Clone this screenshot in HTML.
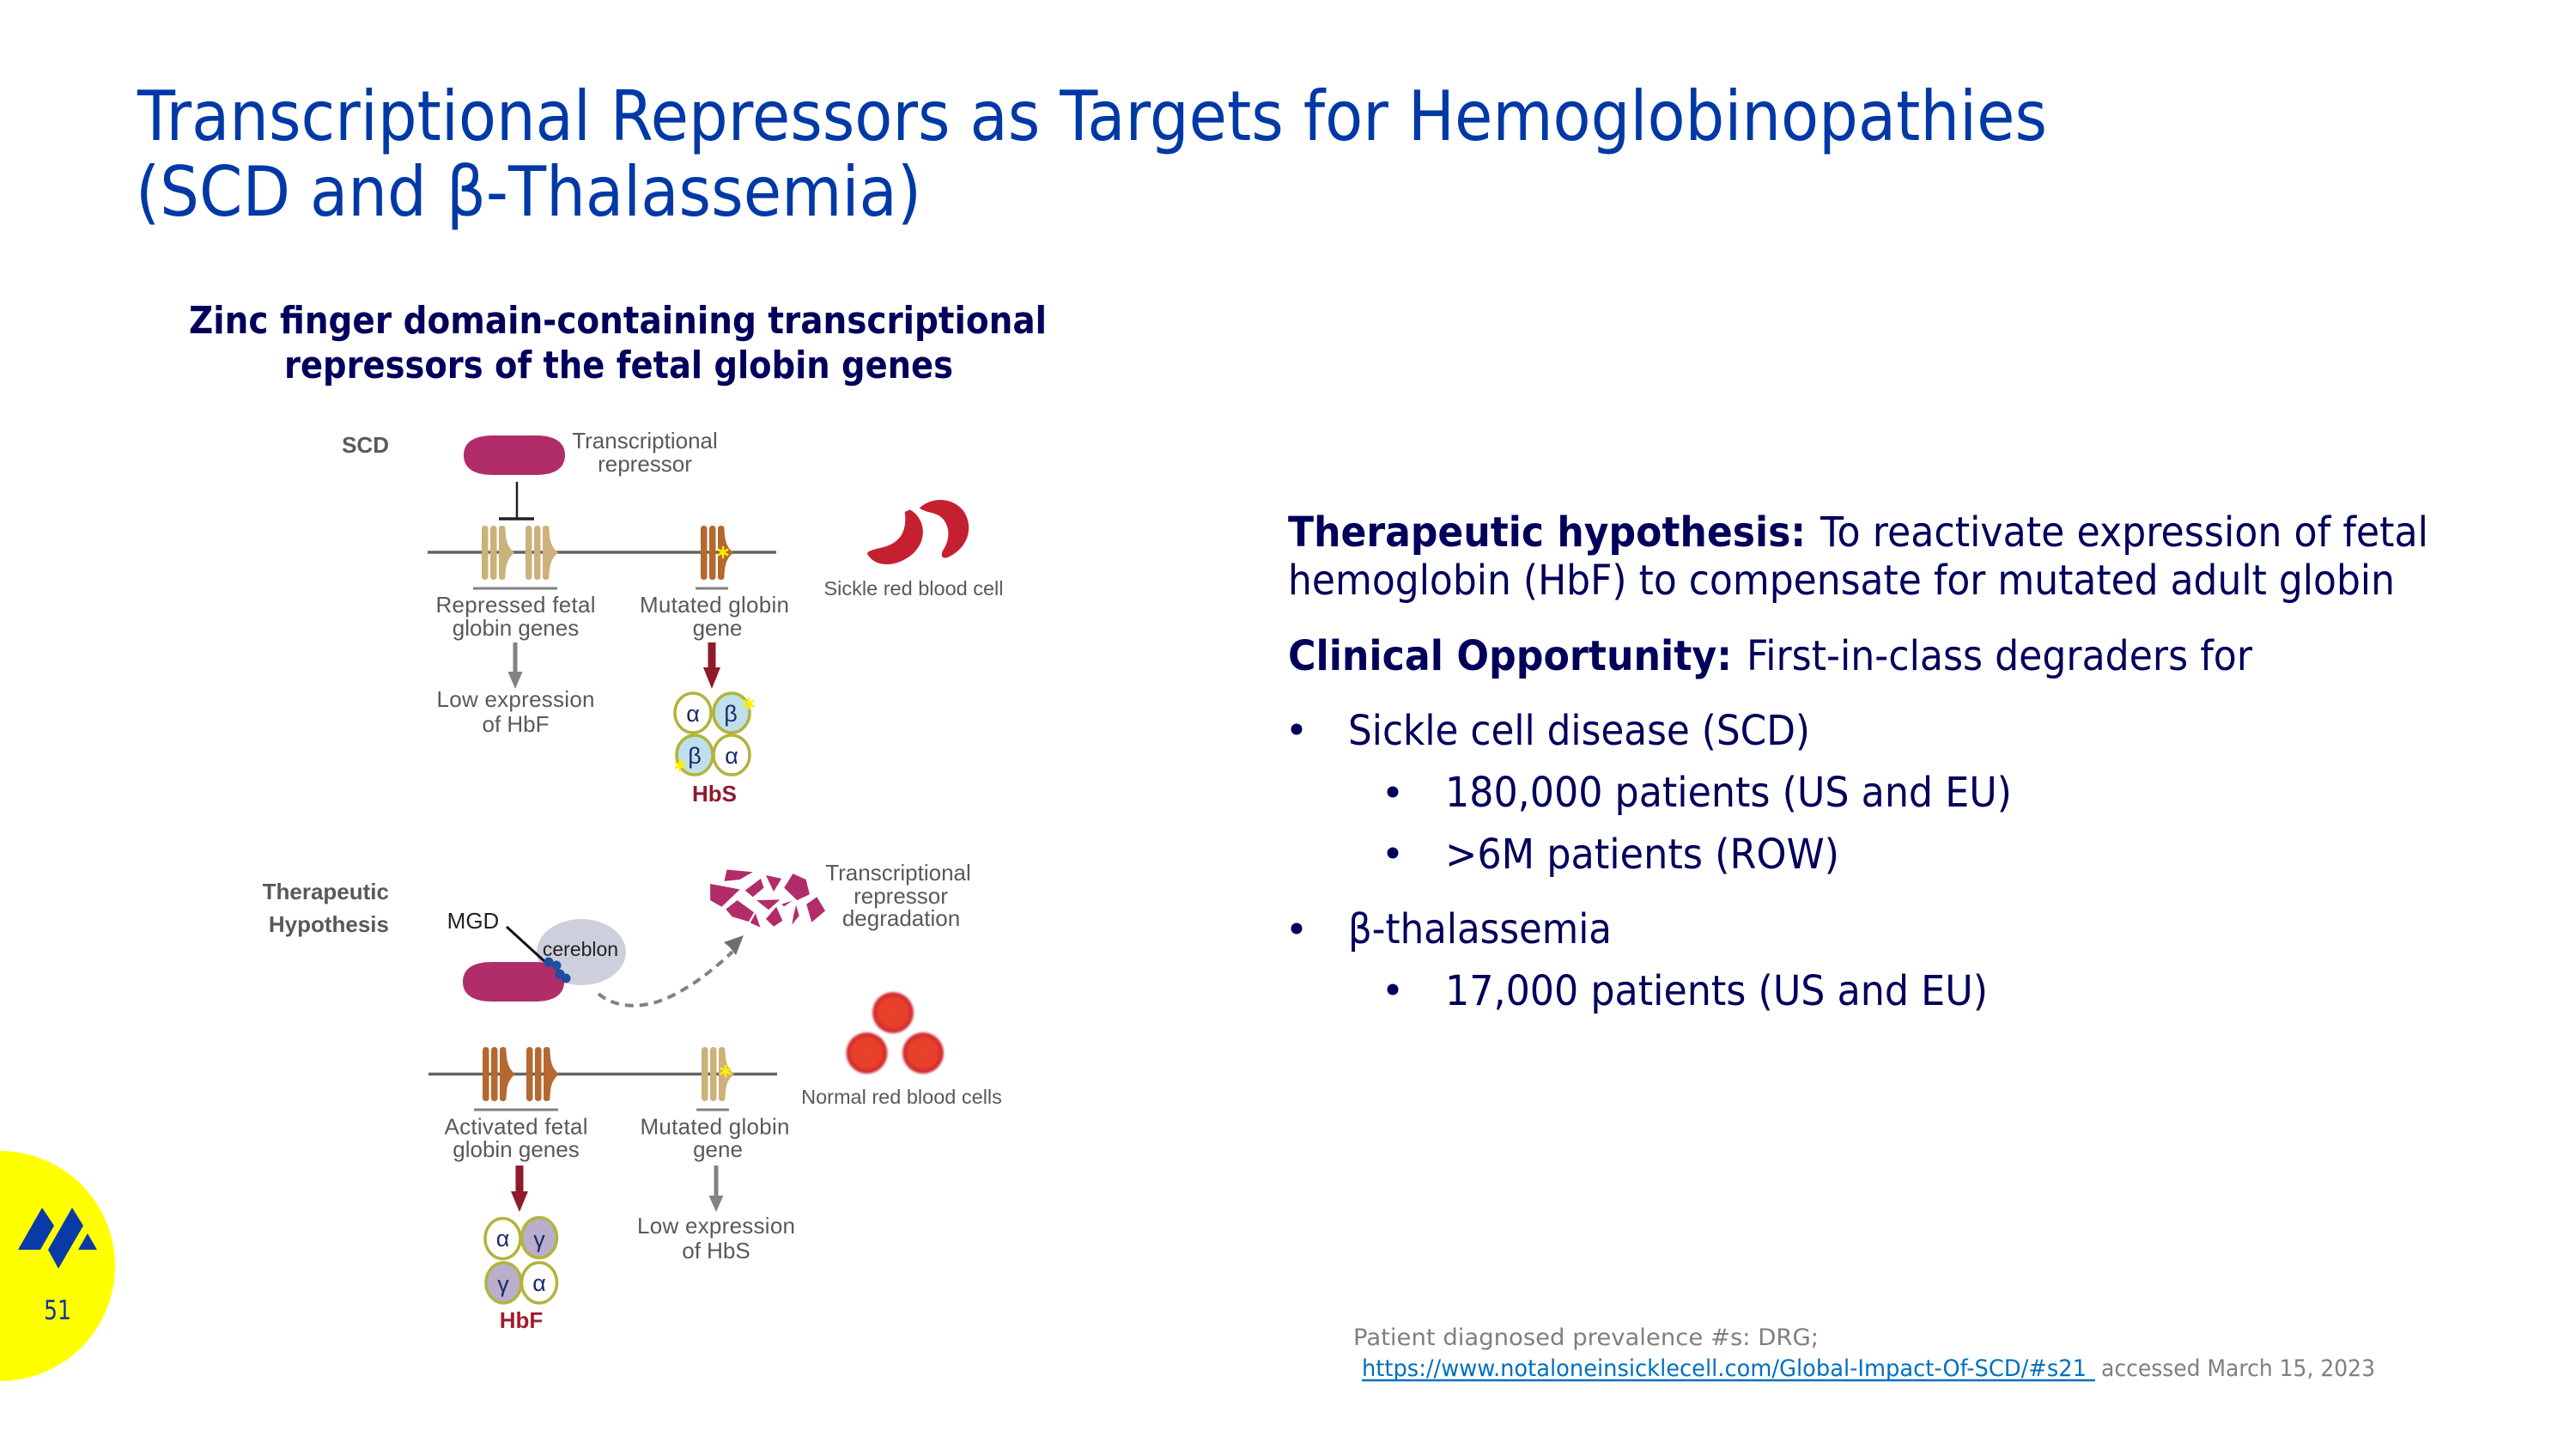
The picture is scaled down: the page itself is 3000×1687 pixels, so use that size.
<!DOCTYPE html>
<html lang="en">
<head>
<meta charset="utf-8">
<title>Transcriptional Repressors as Targets for Hemoglobinopathies</title>
<style>
html,body{margin:0;padding:0;background:#fff;width:3000px;height:1687px;overflow:hidden}
svg{display:block}
text{white-space:pre}
.t{font-family:"DejaVu Sans",sans-serif;fill:#0039a6;font-size:80px}
.b{font-family:"DejaVu Sans",sans-serif;fill:#00005c;font-size:48px}
.bb{font-family:"DejaVu Sans",sans-serif;fill:#00005c;font-size:48px;font-weight:700}
.s{font-family:"DejaVu Sans",sans-serif;fill:#00005c;font-size:44px;font-weight:700}
.f{font-family:"DejaVu Sans",sans-serif;fill:#7f7f7f;font-size:27px}
.l{font-family:"Liberation Sans",sans-serif;fill:#58595b;font-size:26px;text-anchor:middle}
.h{font-family:"Liberation Sans",sans-serif;fill:#58595b;font-size:26px;font-weight:700;text-anchor:end}
.k{font-family:"Liberation Sans",sans-serif;fill:#222;text-anchor:middle}
.g{font-family:"Liberation Sans",sans-serif;fill:#1b2a6b;font-size:27px;text-anchor:middle}
</style>
</head>
<body>
<svg xmlns="http://www.w3.org/2000/svg" width="3000" height="1687" viewBox="0 0 3000 1687">
<defs>
  <radialGradient id="rbc" cx="50%" cy="50%" r="50%">
    <stop offset="0" stop-color="#e8432a"/><stop offset=".72" stop-color="#e8402b"/><stop offset=".92" stop-color="#cc2530"/><stop offset="1" stop-color="#d8454a"/>
  </radialGradient>
  <filter id="soft" x="-10%" y="-10%" width="120%" height="120%"><feGaussianBlur stdDeviation="1.2"/></filter>
  <g id="ex">
    <rect x="0" y="-31.5" width="7.5" height="63" rx="3.5"/>
    <rect x="10" y="-31.5" width="7.5" height="63" rx="3.5"/>
    <path d="M20 -28 Q20 -31.5 23.75 -31.5 Q27.5 -31.5 27.5 -28 C28 -12,31 -6,38 0 C31 6,28 12,27.5 28 Q27.5 31.5 23.75 31.5 Q20 31.5 20 28Z"/>
  </g>
  <g id="star" stroke="#ffee00" stroke-width="2.6" stroke-linecap="round" fill="none">
    <path d="M0 -6V6M-5.2 -3L5.2 3M-5.2 3L5.2 -3"/>
  </g>
  <path id="pill" d="M-59 0 C-59 -17,-44 -23,-25 -23 L25 -23 C44 -23,59 -17,59 0 C59 17,44 23,25 23 L-25 23 C-44 23,-59 17,-59 0Z" fill="#b12d69"/>
</defs>
<rect width="3000" height="1687" fill="#fff"/>

<!-- Title -->
<text class="t" x="160" y="163" textLength="2224" lengthAdjust="spacingAndGlyphs">Transcriptional Repressors as Targets for Hemoglobinopathies</text>
<text class="t" x="158" y="251" textLength="915" lengthAdjust="spacingAndGlyphs">(SCD and β-Thalassemia)</text>

<!-- Subtitle -->
<text class="s" x="220" y="388" textLength="999" lengthAdjust="spacingAndGlyphs">Zinc finger domain-containing transcriptional</text>
<text class="s" x="331" y="440" textLength="779" lengthAdjust="spacingAndGlyphs">repressors of the fetal globin genes</text>

<!-- SCD diagram -->
<text class="h" x="453" y="527">SCD</text>
<use href="#pill" x="599" y="530"/>
<text class="l" x="751" y="522">Transcriptional</text>
<text class="l" x="751" y="549">repressor</text>
<path d="M602 561V604" stroke="#231f20" stroke-width="2.5"/>
<path d="M581 604H622" stroke="#231f20" stroke-width="3.5"/>
<path d="M498 643H904" stroke="#636466" stroke-width="3.5"/>
<use href="#ex" x="561" y="643.5" fill="#ccb27a"/>
<use href="#ex" x="612" y="643.5" fill="#ccb27a"/>
<use href="#ex" x="816" y="643.5" fill="#b5682f"/>
<use href="#star" x="842" y="643"/>
<path d="M551 685H649M810 685H848" stroke="#808285" stroke-width="3"/>
<text class="l" x="600.5" y="713" textLength="186">Repressed fetal</text>
<text class="l" x="600.5" y="740">globin genes</text>
<text class="l" x="832" y="713" textLength="174">Mutated globin</text>
<text class="l" x="835.5" y="740">gene</text>
<polygon points="597.5,748 602.5,748 602.5,782 608.5,782 600,802 591.5,782 597.5,782" fill="#808285"/>
<polygon points="824.5,748 833.5,748 833.5,777 839,777 829,802 819,777 824.5,777" fill="#8e1a2c"/>
<text class="l" x="600.5" y="823" textLength="184">Low expression</text>
<text class="l" x="600.5" y="852">of HbF</text>
<g stroke="#b2b43c" stroke-width="3.5">
  <ellipse cx="807" cy="830" rx="21" ry="23" fill="#fff"/>
  <ellipse cx="852" cy="830" rx="21" ry="23" fill="#bfe0ea"/>
  <ellipse cx="809" cy="879" rx="21" ry="23" fill="#bfe0ea"/>
  <ellipse cx="852" cy="879" rx="21" ry="23" fill="#fff"/>
</g>
<text class="g" x="807" y="840">α</text>
<text class="g" x="851" y="840">β</text>
<text class="g" x="809" y="889">β</text>
<text class="g" x="852" y="889">α</text>
<use href="#star" x="872" y="819"/>
<use href="#star" x="792" y="891"/>
<text class="l" x="832" y="933" style="font-weight:700;fill:#8e1a2c">HbS</text>
<g transform="translate(280,480) scale(.6059,.3333)" fill="#c5202f">
  <path d="M1305 335 C1328 295,1368 295,1390 345 C1410 400,1400 475,1358 508 C1346 512,1346 495,1351 480 C1366 440,1364 385,1342 360 C1332 350,1318 350,1305 335Z"/>
  <path d="M1287 340 C1316 370,1322 445,1292 495 C1265 538,1222 548,1205 495 C1204 482,1222 478,1238 470 C1266 455,1282 420,1277 348Z"/>
</g>
<text class="l" x="1064" y="693" style="font-size:23.5px">Sickle red blood cell</text>

<!-- Therapeutic hypothesis diagram -->
<text class="h" x="453" y="1047">Therapeutic</text>
<text class="h" x="453" y="1085">Hypothesis</text>
<text class="k" x="551" y="1081" style="font-size:26px">MGD</text>
<ellipse cx="677" cy="1108.5" rx="52" ry="38.5" fill="#cdd0dc"/>
<use href="#pill" x="598" y="1143"/>
<text class="k" x="676" y="1113" style="font-size:23px">cereblon</text>
<path d="M590 1079L635 1120" stroke="#111" stroke-width="3"/>
<g fill="#1f4ea1">
  <circle cx="639" cy="1120" r="5.5"/><circle cx="648" cy="1124" r="5.5"/><circle cx="652" cy="1134" r="5.5"/><circle cx="659" cy="1139" r="5.5"/>
</g>
<path d="M697 1157 C712 1170,735 1174,760 1168 C790 1160,825 1135,853 1108" fill="none" stroke="#808285" stroke-width="4" stroke-dasharray="10 7"/>
<polygon points="866,1089 843,1097 850,1103 857,1112" fill="#6d6e71"/>
<g transform="translate(280,980) scale(.6059,.3827)" fill="#b12d69">
  <polygon points="903,128 960,145 925,198 903,178"/>
  <polygon points="935,85 985,92 960,115 930,120"/>
  <polygon points="970,148 1000,112 1006,140 985,168"/>
  <polygon points="1010,102 1040,112 1025,152"/>
  <polygon points="1062,97 1087,115 1094,160 1070,178 1045,140"/>
  <polygon points="955,178 987,215 977,243 945,228 933,205"/>
  <polygon points="992,178 1037,176 1015,207"/>
  <polygon points="990,218 999,260 980,247"/>
  <polygon points="1030,198 1042,240 1025,258 1010,235"/>
  <polygon points="1068,193 1074,225 1060,252 1063,225"/>
  <polygon points="1108,168 1124,210 1098,245 1088,190"/>
  <polygon points="1040,190 1060,180 1045,197"/>
</g>
<text class="l" x="1046" y="1025">Transcriptional</text>
<text class="l" x="1049" y="1052">repressor</text>
<text class="l" x="1049.5" y="1078">degradation</text>
<g filter="url(#soft)">
<ellipse cx="1040" cy="1179" rx="24" ry="24" fill="url(#rbc)"/>
<ellipse cx="1009.5" cy="1226" rx="24" ry="24" fill="url(#rbc)"/>
<ellipse cx="1075" cy="1226" rx="24" ry="24" fill="url(#rbc)"/>
</g>
<text class="l" x="1050" y="1285" style="font-size:23.5px">Normal red blood cells</text>
<path d="M499 1250.5H905" stroke="#636466" stroke-width="3.5"/>
<use href="#ex" x="562" y="1250.5" fill="#b5682f"/>
<use href="#ex" x="613" y="1250.5" fill="#b5682f"/>
<use href="#ex" x="817" y="1250.5" fill="#ccb27a"/>
<use href="#star" x="845" y="1247"/>
<path d="M552 1292H650M811 1292H849" stroke="#808285" stroke-width="3"/>
<text class="l" x="601" y="1320.5" textLength="167">Activated fetal</text>
<text class="l" x="601" y="1347">globin genes</text>
<text class="l" x="832.5" y="1320.5" textLength="174">Mutated globin</text>
<text class="l" x="836" y="1347">gene</text>
<polygon points="600.5,1357 609.5,1357 609.5,1387 615,1387 605,1411 595,1387 600.5,1387" fill="#8e1a2c"/>
<polygon points="831.5,1357 836.5,1357 836.5,1392 842.5,1392 834,1411 825.5,1392 831.5,1392" fill="#808285"/>
<text class="l" x="834" y="1436" textLength="184">Low expression</text>
<text class="l" x="834" y="1465">of HbS</text>
<g stroke="#b2b43c" stroke-width="3.5">
  <ellipse cx="585.5" cy="1442" rx="20.5" ry="23.5" fill="#fff"/>
  <ellipse cx="628" cy="1441" rx="20.5" ry="23.5" fill="#b9aecb"/>
  <ellipse cx="586.5" cy="1493.5" rx="20.5" ry="23.5" fill="#b9aecb"/>
  <ellipse cx="628" cy="1493.5" rx="20.5" ry="23.5" fill="#fff"/>
</g>
<text class="g" x="585.5" y="1451">α</text>
<text class="g" x="628" y="1452">γ</text>
<text class="g" x="586" y="1504">γ</text>
<text class="g" x="628" y="1503">α</text>
<text class="l" x="607" y="1546" style="font-weight:700;fill:#a31c2e">HbF</text>

<!-- Right text -->
<text class="bb" x="1500" y="636" textLength="603" lengthAdjust="spacingAndGlyphs">Therapeutic hypothesis:</text>
<text class="b" x="2120" y="636" textLength="708" lengthAdjust="spacingAndGlyphs">To reactivate expression of fetal</text>
<text class="b" x="1500" y="692" textLength="1289" lengthAdjust="spacingAndGlyphs">hemoglobin (HbF) to compensate for mutated adult globin</text>
<text class="bb" x="1500" y="780" textLength="517" lengthAdjust="spacingAndGlyphs">Clinical Opportunity:</text>
<text class="b" x="2034" y="780" textLength="589" lengthAdjust="spacingAndGlyphs">First-in-class degraders for</text>

<g fill="#00005c">
  <circle cx="1510" cy="849" r="6.5"/>
  <circle cx="1622" cy="922" r="6.5"/>
  <circle cx="1622" cy="993" r="6.5"/>
  <circle cx="1510" cy="1081" r="6.5"/>
  <circle cx="1622" cy="1152" r="6.5"/>
</g>
<text class="b" x="1570" y="867" textLength="538" lengthAdjust="spacingAndGlyphs">Sickle cell disease (SCD)</text>
<text class="b" x="1683" y="939" textLength="660" lengthAdjust="spacingAndGlyphs">180,000 patients (US and EU)</text>
<text class="b" x="1683" y="1011" textLength="459" lengthAdjust="spacingAndGlyphs">&gt;6M patients (ROW)</text>
<text class="b" x="1570" y="1098" textLength="307" lengthAdjust="spacingAndGlyphs">β-thalassemia</text>
<text class="b" x="1683" y="1170" textLength="632" lengthAdjust="spacingAndGlyphs">17,000 patients (US and EU)</text>

<!-- Footnote -->
<text class="f" x="1576" y="1566" textLength="542" lengthAdjust="spacingAndGlyphs">Patient diagnosed prevalence #s: DRG;</text>
<text class="f" x="1586" y="1602" textLength="844" lengthAdjust="spacingAndGlyphs" style="fill:#0070c0">https://www.notaloneinsicklecell.com/Global-Impact-Of-SCD/#s21</text>
<path d="M1586 1607H2440" stroke="#0070c0" stroke-width="2.5"/>
<text class="f" x="2447" y="1602" textLength="319" lengthAdjust="spacingAndGlyphs">accessed March 15, 2023</text>

<!-- Badge -->
<circle cx="0" cy="1474" r="134" fill="#ffff00"/>
<g fill="#0a3aa8">
  <polygon points="21,1455 49,1406 63,1427 47,1455"/>
  <polygon points="56,1455 84,1406 97,1427 68,1477"/>
  <polygon points="91,1455 102,1436 113,1455"/>
</g>
<text x="67" y="1536" text-anchor="middle" textLength="32" lengthAdjust="spacingAndGlyphs" style="font-family:'DejaVu Sans',sans-serif;font-size:31px;fill:#0a3a9a">51</text>
</svg>
</body>
</html>
